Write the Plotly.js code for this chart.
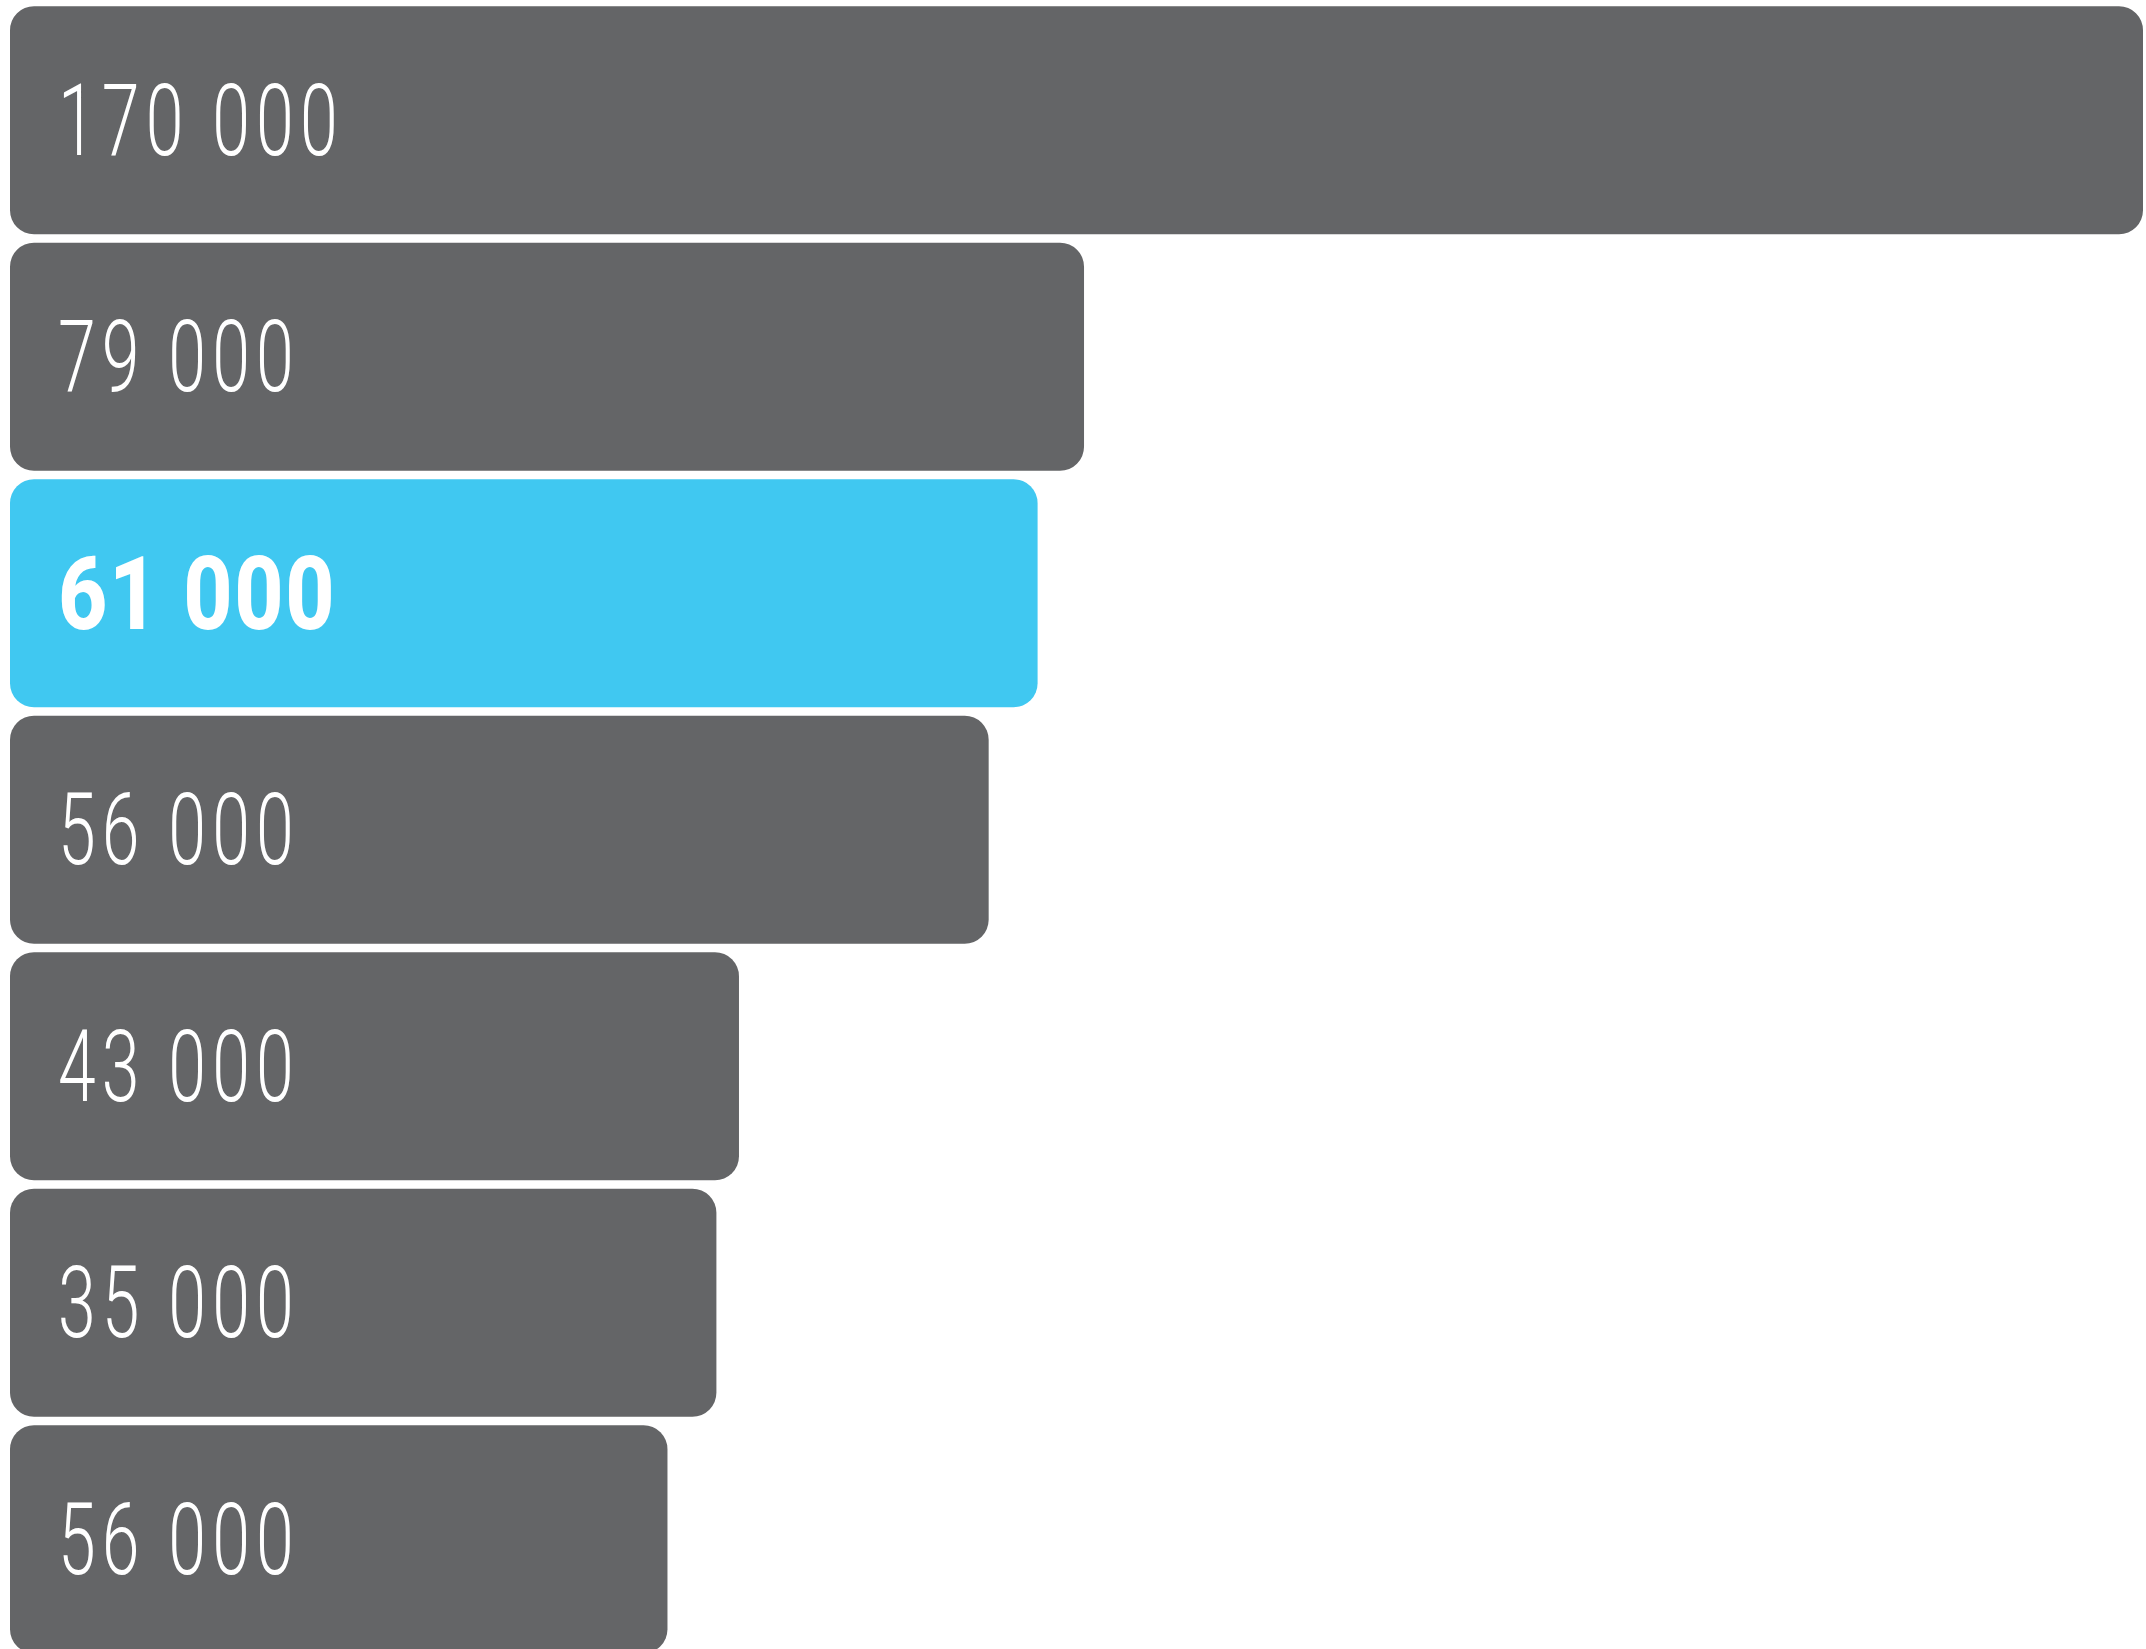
<!DOCTYPE html>
<html>
<head>
<meta charset="utf-8">
<script src="https://cdn.plot.ly/plotly-3.0.1.min.js"></script>
<style>
  html, body { margin: 0; padding: 0; background: #ffffff; }
  #chart { width: 2146px; height: 1649px; }
</style>
</head>
<body>
<div id="chart"></div>
<script>
// ---- data ----
const categories = ['r1', 'r2', 'r3', 'r4', 'r5', 'r6', 'r7'];
const valueLabels = ['170 000', '79 000', '61 000', '56 000', '43 000', '35 000', '56 000'];
// drawn bar lengths (same units as the first bar = 170 000)
const barLength = [170000, 85600, 81900, 78000, 58100, 56300, 52400];
const highlight = [false, false, true, false, false, false, false];

// ---- styles ----
const GRAY = '#646567';
const BLUE = '#40C8F1';
const barColors = highlight.map(h => h ? BLUE : GRAY);
const zeroBase = barLength.map(() => 0);

const traces = [{
  type: 'bar',
  orientation: 'h',
  y: categories,
  x: barLength,
  base: zeroBase,
  marker: { color: barColors, cornerradius: 24, line: { width: 0 } },
  hoverinfo: 'skip',
  showlegend: false
}];

const annotations = categories.map((c, i) => ({
  x: 0, y: c, xref: 'x', yref: 'y',
  xanchor: 'left', yanchor: 'middle',
  xshift: 46, yshift: highlight[i] ? -1 : 0,
  text: valueLabels[i],
  showarrow: false,
  font: {
    family: 'Roboto, "Liberation Sans", sans-serif',
    size: highlight[i] ? 102 : 100,
    color: '#ffffff',
    weight: highlight[i] ? 800 : 300
  }
}));

const plotH = 1649 - 2;
const pitch = 236.5;
const span = plotH / pitch;

const layout = {
  width: 2146, height: 1649,
  margin: { l: 10, r: 3, t: 2, b: 0, pad: 0 },
  paper_bgcolor: '#ffffff',
  plot_bgcolor: '#ffffff',
  barmode: 'overlay',
  bargap: 0.036,
  showlegend: false,
  xaxis: {
    range: [0, 170000],
    showgrid: false, zeroline: false, showticklabels: false,
    showline: false, ticks: '', fixedrange: true
  },
  yaxis: {
    type: 'category',
    categoryorder: 'array', categoryarray: categories,
    range: [-0.5 + span, -0.5],
    showgrid: false, zeroline: false, showticklabels: false,
    showline: false, ticks: '', fixedrange: true
  },
  annotations: annotations
};

Plotly.newPlot('chart', traces, layout, { displayModeBar: false, staticPlot: true }).then(() => {
  // condense the label glyphs horizontally (narrow display face in the original)
  const groups = document.querySelectorAll('g.annotation');
  groups.forEach((g, i) => {
    const t = g.querySelector('text.annotation-text');
    if (!t) return;
    const s = highlight[i] ? 0.84 : 0.68;
    const bb0 = t.getBBox();
    t.setAttribute('letter-spacing', highlight[i] ? '2px' : '9px');
    const bb1 = t.getBBox();
    const prev = t.getAttribute('transform') || '';
    t.setAttribute('transform', prev + ' translate(' + bb0.x + ',0) scale(' + s + ',1) translate(' + (-bb1.x) + ',0)');
  });
});
</script>
</body>
</html>
